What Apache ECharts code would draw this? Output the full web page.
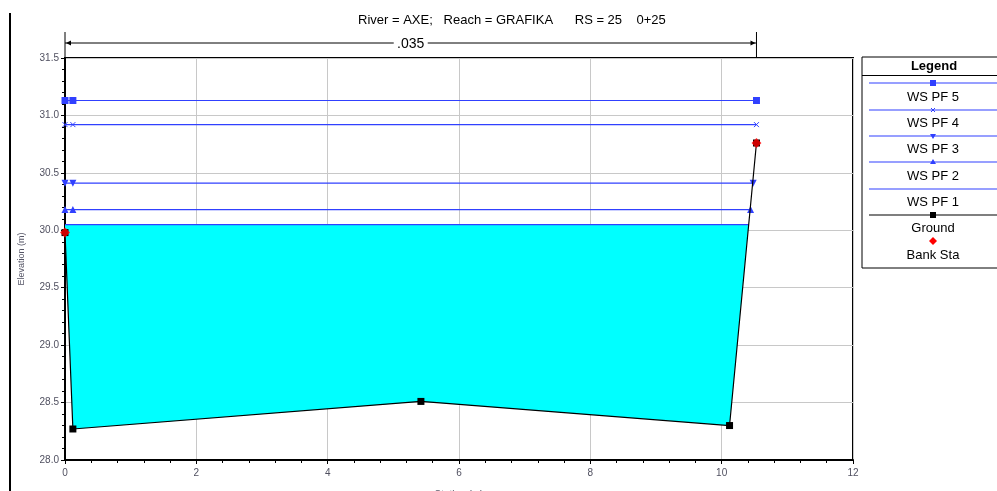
<!DOCTYPE html>
<html>
<head>
<meta charset="utf-8">
<script src="https://cdn.jsdelivr.net/npm/echarts@6/dist/echarts.min.js"></script>
<style>
html, body { margin: 0; padding: 0; background: #fff; }
#chart { width: 997px; height: 491px; }
</style>
</head>
<body>
<div id="chart"></div>
<script>
// cross section
var stations = [0, 0.12, 5.42, 10.12, 10.53];
var groundElev = [29.98, 28.27, 28.51, 28.30, 30.76];
var bankSta = [[0, 29.98], [10.53, 30.76]];

var wsNames = ['WS PF 5', 'WS PF 4', 'WS PF 3', 'WS PF 2', 'WS PF 1'];
var wsElev = [31.13, 30.92, 30.41, 30.18, 30.05];
var wsLeftSta = [0, 0.12];
var wsRightSta = [10.53, 10.53, 10.48, 10.44, 10.41];
var wsSymbols = ['rect', 'path://M0,0L10,10M10,0L0,10', 'triangle', 'triangle', 'none'];
var wsRotate = [0, 0, 180, 0, 0];

var xTicks = { min: 0, max: 12, interval: 2 };
var yTicks = { min: 28, max: 31.5, interval: 0.5 };

var nValue = '.035';
var nRange = [0, 10.53];

var titleText = 'River = AXE;   Reach = GRAFIKA      RS = 25    0+25';

var FONT = '"Liberation Sans", Arial, sans-serif';
var BLUE = '#3040ff';

var chart = echarts.init(document.getElementById('chart'));

var series = [];

// water fill under WS PF 1
series.push({
    name: 'fill',
    type: 'custom',
    z: 1,
    clip: true,
    data: [0],
    renderItem: function (params, api) {
        var lvl = wsElev[4];
        var pts = [[0, lvl], [wsRightSta[4], lvl]];
        for (var i = stations.length - 2; i >= 1; i--) {
            pts.push([stations[i], groundElev[i]]);
        }
        pts.push([stations[0], groundElev[0]]);
        return {
            type: 'polygon',
            shape: { points: pts.map(function (p) { return api.coord(p); }) },
            style: { fill: '#00ffff', stroke: null }
        };
    }
});

wsNames.forEach(function (nm, i) {
    var d = [[wsLeftSta[0], wsElev[i]], [wsLeftSta[1], wsElev[i]], [wsRightSta[i], wsElev[i]]];
    var isX = i === 1;
    series.push({
        name: nm,
        type: 'line',
        z: 3,
        data: d,
        symbol: wsSymbols[i],
        symbolRotate: wsRotate[i],
        symbolSize: isX ? 5 : 7,
        showSymbol: wsSymbols[i] !== 'none',
        lineStyle: { color: BLUE, width: 1.2 },
        itemStyle: isX ? { color: 'none', borderColor: BLUE, borderWidth: 1 } : { color: BLUE },
        animation: false
    });
});

series.push({
    name: 'Ground',
    type: 'line',
    z: 4,
    data: stations.map(function (s, i) { return [s, groundElev[i]]; }),
    symbol: 'rect',
    symbolSize: 7,
    lineStyle: { color: '#000', width: 1.2 },
    itemStyle: { color: '#000' },
    animation: false
});

series.push({
    name: 'Bank Sta',
    type: 'scatter',
    z: 5,
    data: bankSta,
    symbol: 'diamond',
    symbolSize: 10,
    itemStyle: { color: '#ff0000' },
    animation: false
});

chart.setOption({
    backgroundColor: '#fff',
    animation: false,
    textStyle: { fontFamily: FONT },
    grid: {
        left: 65, right: 144, top: 58, bottom: 31,
        outerBoundsMode: 'none',
        containLabel: false,
        show: true, borderColor: '#000', borderWidth: 2
    },
    xAxis: {
        type: 'value',
        min: xTicks.min, max: xTicks.max, interval: xTicks.interval,
        name: 'Station (m)',
        nameLocation: 'middle',
        nameGap: 30,
        nameTextStyle: { color: '#556', fontSize: 10, fontFamily: FONT },
        axisLine: { show: true, lineStyle: { color: '#000', width: 2 } },
        axisTick: { show: true, length: 4, lineStyle: { color: '#000' } },
        minorTick: { show: true, splitNumber: 5, length: 3, lineStyle: { color: '#000' } },
        axisLabel: { color: '#505060', fontSize: 10, margin: 8, fontFamily: FONT },
        splitLine: { show: true, lineStyle: { color: '#c8c8c8', width: 1 } }
    },
    yAxis: {
        type: 'value',
        min: yTicks.min, max: yTicks.max, interval: yTicks.interval,
        name: 'Elevation (m)',
        nameLocation: 'middle',
        nameGap: 39,
        nameTextStyle: { color: '#556', fontSize: 9, fontFamily: FONT },
        axisLine: { show: true, lineStyle: { color: '#000', width: 2 } },
        axisTick: { show: true, length: 4, lineStyle: { color: '#000' } },
        minorTick: { show: true, splitNumber: 5, length: 3, lineStyle: { color: '#000' } },
        axisLabel: {
            color: '#505060', fontSize: 10, margin: 6, fontFamily: FONT,
            formatter: function (v) { return v.toFixed(1); }
        },
        splitLine: { show: true, lineStyle: { color: '#c8c8c8', width: 1 } }
    },
    series: series
});

// overlay: title, n-value bracket, legend box, left frame line
var pL = chart.convertToPixel({ gridIndex: 0 }, [nRange[0], yTicks.max]);
var pR = chart.convertToPixel({ gridIndex: 0 }, [nRange[1], yTicks.max]);
var yArrow = 43;
var g = [];

g.push({ type: 'line', shape: { x1: 10, y1: 13, x2: 10, y2: 491 }, style: { stroke: '#000', lineWidth: 2 } });

g.push({
    type: 'text', left: 358, top: 14,
    style: { text: titleText, font: '13px ' + FONT, fill: '#000' }
});

// n value bracket
g.push({ type: 'line', shape: { x1: pL[0], y1: 32, x2: pL[0], y2: pL[1] }, style: { stroke: '#000', lineWidth: 1 } });
g.push({ type: 'line', shape: { x1: pR[0], y1: 32, x2: pR[0], y2: pL[1] }, style: { stroke: '#000', lineWidth: 1 } });
g.push({ type: 'line', shape: { x1: pL[0], y1: yArrow, x2: pR[0], y2: yArrow }, style: { stroke: '#000', lineWidth: 1 } });
g.push({ type: 'polygon', shape: { points: [[pL[0] + 1, yArrow], [pL[0] + 6, yArrow - 2.5], [pL[0] + 6, yArrow + 2.5]] }, style: { fill: '#000' } });
g.push({ type: 'polygon', shape: { points: [[pR[0] - 1, yArrow], [pR[0] - 6, yArrow - 2.5], [pR[0] - 6, yArrow + 2.5]] }, style: { fill: '#000' } });
var mid = (pL[0] + pR[0]) / 2;
g.push({ type: 'rect', shape: { x: mid - 17, y: yArrow - 7, width: 34, height: 14 }, style: { fill: '#fff' } });
g.push({
    type: 'text', x: mid, y: yArrow + 1,
    style: { text: nValue, font: '14px ' + FONT, fill: '#000', align: 'center', verticalAlign: 'middle' }
});

// legend box
var LX = 862, LW = 140, LT = 57, LB = 268, MX = 933;
g.push({ type: 'rect', shape: { x: LX, y: LT, width: LW, height: LB - LT }, style: { fill: '#fff', stroke: '#000', lineWidth: 1 } });
g.push({ type: 'text', x: MX + 1, y: 66, style: { text: 'Legend', font: 'bold 13px ' + FONT, fill: '#000', align: 'center', verticalAlign: 'middle' } });
g.push({ type: 'line', shape: { x1: LX, y1: 75.5, x2: LX + LW, y2: 75.5 }, style: { stroke: '#000', lineWidth: 1 } });

var legLines = [83, 110, 136, 162, 189];
var legTexts = [97, 123, 149, 176, 202];
wsNames.forEach(function (nm, i) {
    var ly = legLines[i];
    g.push({ type: 'line', shape: { x1: 869, y1: ly, x2: 997, y2: ly }, style: { stroke: BLUE, lineWidth: 1.2 } });
    if (i === 0) {
        g.push({ type: 'rect', shape: { x: MX - 3, y: ly - 3, width: 6, height: 6 }, style: { fill: BLUE } });
    } else if (i === 1) {
        g.push({ type: 'polyline', shape: { points: [[MX - 2, ly - 2], [MX + 2, ly + 2]] }, style: { stroke: BLUE, lineWidth: 1 } });
        g.push({ type: 'polyline', shape: { points: [[MX + 2, ly - 2], [MX - 2, ly + 2]] }, style: { stroke: BLUE, lineWidth: 1 } });
    } else if (i === 2) {
        g.push({ type: 'polygon', shape: { points: [[MX - 3, ly - 2], [MX + 3, ly - 2], [MX, ly + 3]] }, style: { fill: BLUE } });
    } else if (i === 3) {
        g.push({ type: 'polygon', shape: { points: [[MX - 3, ly + 2], [MX + 3, ly + 2], [MX, ly - 3]] }, style: { fill: BLUE } });
    }
    g.push({ type: 'text', x: MX, y: legTexts[i], style: { text: nm, font: '13px ' + FONT, fill: '#000', align: 'center', verticalAlign: 'middle' } });
});
g.push({ type: 'line', shape: { x1: 869, y1: 215, x2: 997, y2: 215 }, style: { stroke: '#000', lineWidth: 1.2 } });
g.push({ type: 'rect', shape: { x: MX - 3, y: 212, width: 6, height: 6 }, style: { fill: '#000' } });
g.push({ type: 'text', x: MX, y: 228, style: { text: 'Ground', font: '13px ' + FONT, fill: '#000', align: 'center', verticalAlign: 'middle' } });
g.push({ type: 'polygon', shape: { points: [[MX, 237], [MX + 4, 241], [MX, 245], [MX - 4, 241]] }, style: { fill: '#ff0000' } });
g.push({ type: 'text', x: MX, y: 255, style: { text: 'Bank Sta', font: '13px ' + FONT, fill: '#000', align: 'center', verticalAlign: 'middle' } });

chart.setOption({ graphic: g });
</script>
</body>
</html>
